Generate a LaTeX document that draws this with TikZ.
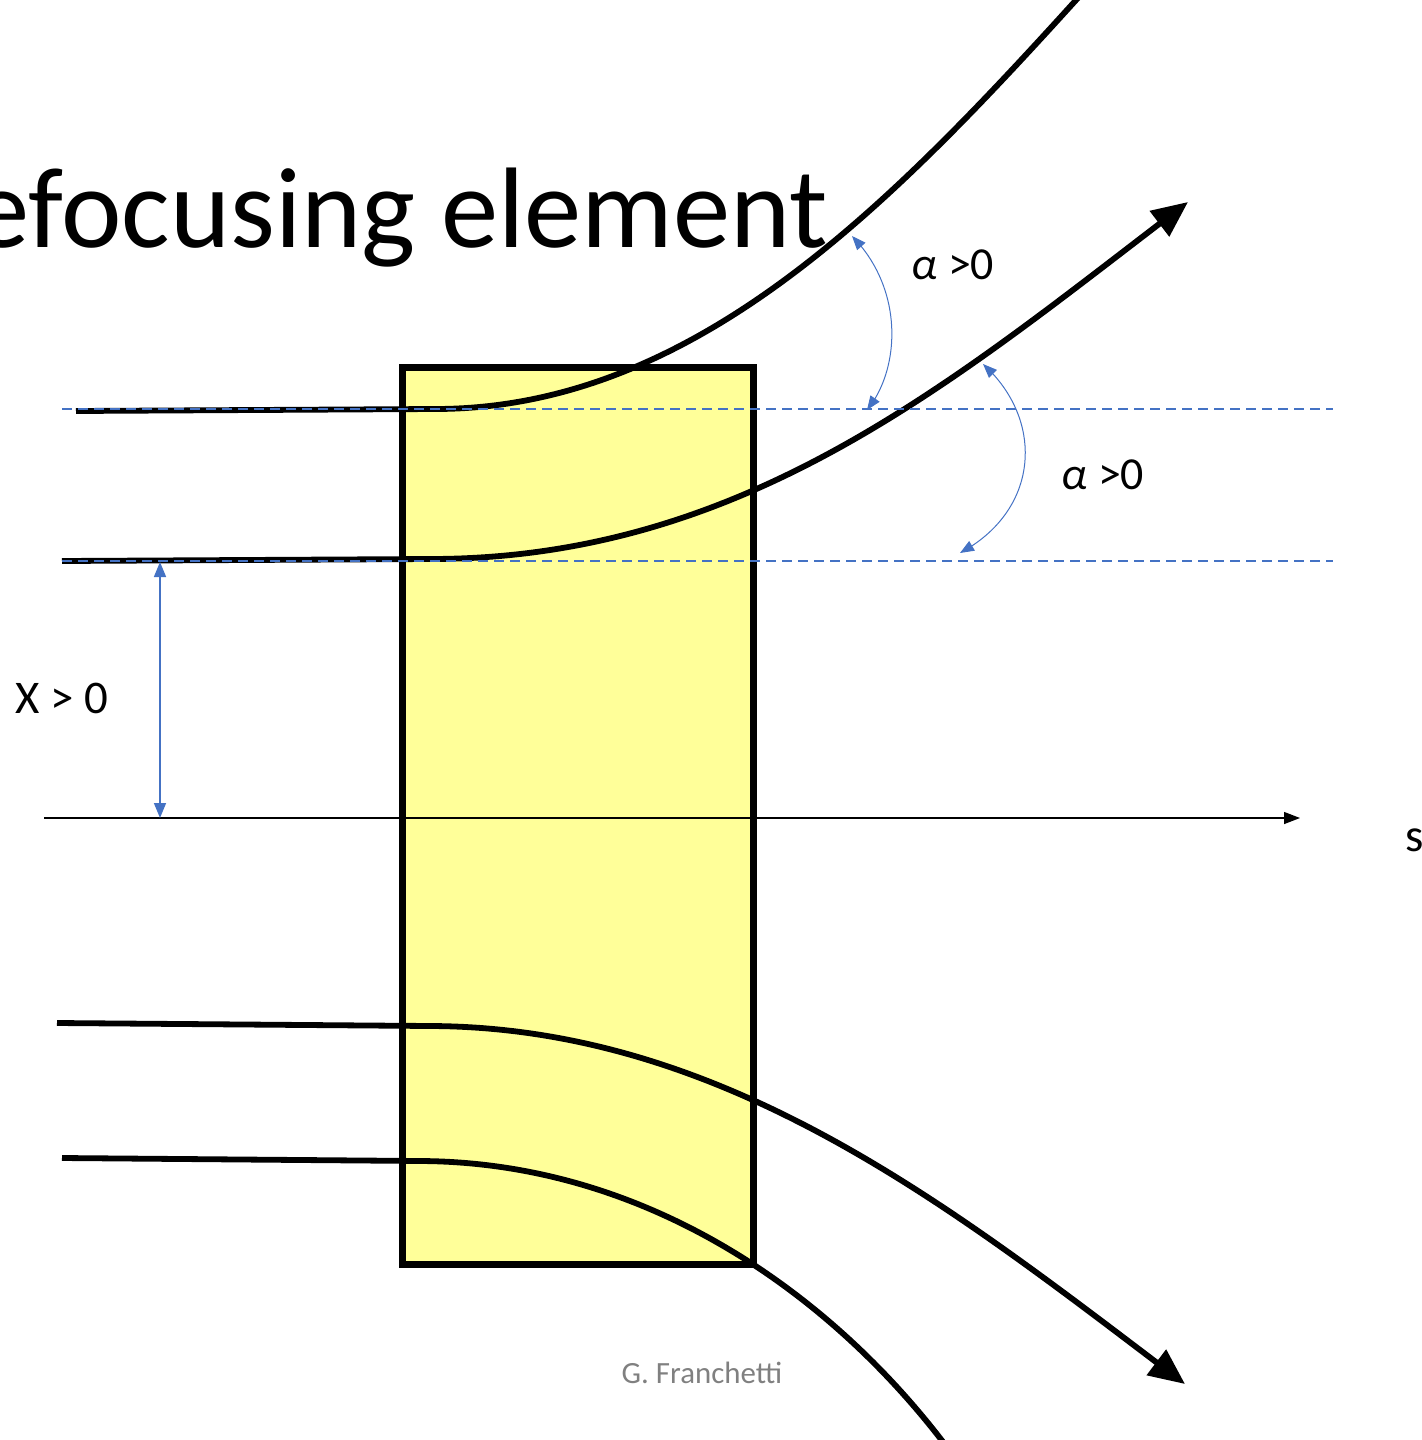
\documentclass[tikz,border=0pt]{standalone}
\usepackage{fontspec}
\setmainfont{Carlito}
\usetikzlibrary{arrows.meta,bending}
\definecolor{boxyellow}{RGB}{255,255,153}
\definecolor{accblue}{RGB}{68,114,196}
\definecolor{footgray}{RGB}{128,128,128}
\begin{document}
\begin{tikzpicture}[x=1bp,y=-1bp,
  traj/.style={line width=5.8bp, black},
  bigtip/.style={-{Triangle[length=36bp,width=31bp]}},
  guide/.style={accblue, line width=1.3bp, dash pattern=on 10bp off 6bp},
  angarrow/.style={accblue, line width=1bp, {Triangle[length=14bp,width=11bp,flex]}-{Triangle[length=14bp,width=11bp,flex]}},
  dimarrow/.style={accblue, line width=1.6bp, {Triangle[length=15bp,width=12bp]}-{Triangle[length=15bp,width=12bp]}},
  lbl/.style={font=\fontsize{46}{54}\selectfont, inner sep=0pt},
]
\useasboundingbox (0,0) rectangle (1422,1440);

% title (clipped at left edge as in the reference)
\node[anchor=base east, inner sep=0pt, font=\fontsize{115}{130}\selectfont] (title) at (828,247) {Defocusing element};

% element
\node[draw=black, line width=7bp, fill=boxyellow, minimum width=351bp, minimum height=896bp, inner sep=0pt] (box) at (577.5,816) {};

% s axis
\coordinate (axL) at (44,818);
\coordinate (axR) at (1300,818);
\draw[line width=1.3bp, -{Triangle[length=16bp,width=12bp]}] (axL) -- (axR);
\node[font=\fontsize{47}{56}\selectfont, inner sep=0pt] (s) at (1415,840) {s};

% trajectories
\coordinate (t1a) at (76,411);
\coordinate (t1b) at (435,409);
\coordinate (t1d) at (1096,-22);
\draw[traj] (t1a) -- (t1b) .. controls (700,409) and (900,195) .. (t1d);

\coordinate (t2a) at (62,561);
\coordinate (t2b) at (430,559);
\coordinate (t2d) at (1188,202);
\draw[traj, bigtip] (t2a) -- (t2b) .. controls (750,559) and (960,375) .. (t2d);

\coordinate (t3a) at (57,1023);
\coordinate (t3b) at (430,1026);
\coordinate (t3d) at (1185,1384);
\draw[traj, bigtip] (t3a) -- (t3b) .. controls (730,1027) and (960,1214) .. (t3d);

\coordinate (t4a) at (62,1158);
\coordinate (t4b) at (420,1161);
\coordinate (t4d) at (960,1465);
\draw[traj] (t4a) -- (t4b) .. controls (660,1162) and (850,1310) .. (t4d);

% dashed guide lines
\coordinate (g1a) at (62,409);
\coordinate (g1b) at (1333,409);
\coordinate (g2a) at (62,561);
\coordinate (g2b) at (1333,561);
\draw[guide] (g1a) -- (g1b);
\draw[guide] (g2a) -- (g2b);

% angle arrows
\coordinate (a1s) at (852,236);
\coordinate (a1e) at (867,410);
\draw[angarrow] (a1s) .. controls (905,290) and (900,370) .. (a1e);
\node[lbl] (alpha1) at (953,265) {\textit{α} >0};

\coordinate (a2s) at (983,364);
\coordinate (a2e) at (960,553);
\draw[angarrow] (a2s) .. controls (1045,420) and (1040,510) .. (a2e);
\node[lbl] (alpha2) at (1103,475) {\textit{α} >0};

% X dimension
\coordinate (xa) at (160,562);
\coordinate (xb) at (160,818);
\draw[dimarrow] (xa) -- (xb);
\node[font=\fontsize{47}{56}\selectfont, inner sep=0pt] (xlbl) at (62,698) {X > 0};

% footer
\node[font=\fontsize{31}{37}\selectfont, text=footgray, inner sep=0pt] (foot) at (702,1373) {G. Franchetti};
\end{tikzpicture}
\end{document}
